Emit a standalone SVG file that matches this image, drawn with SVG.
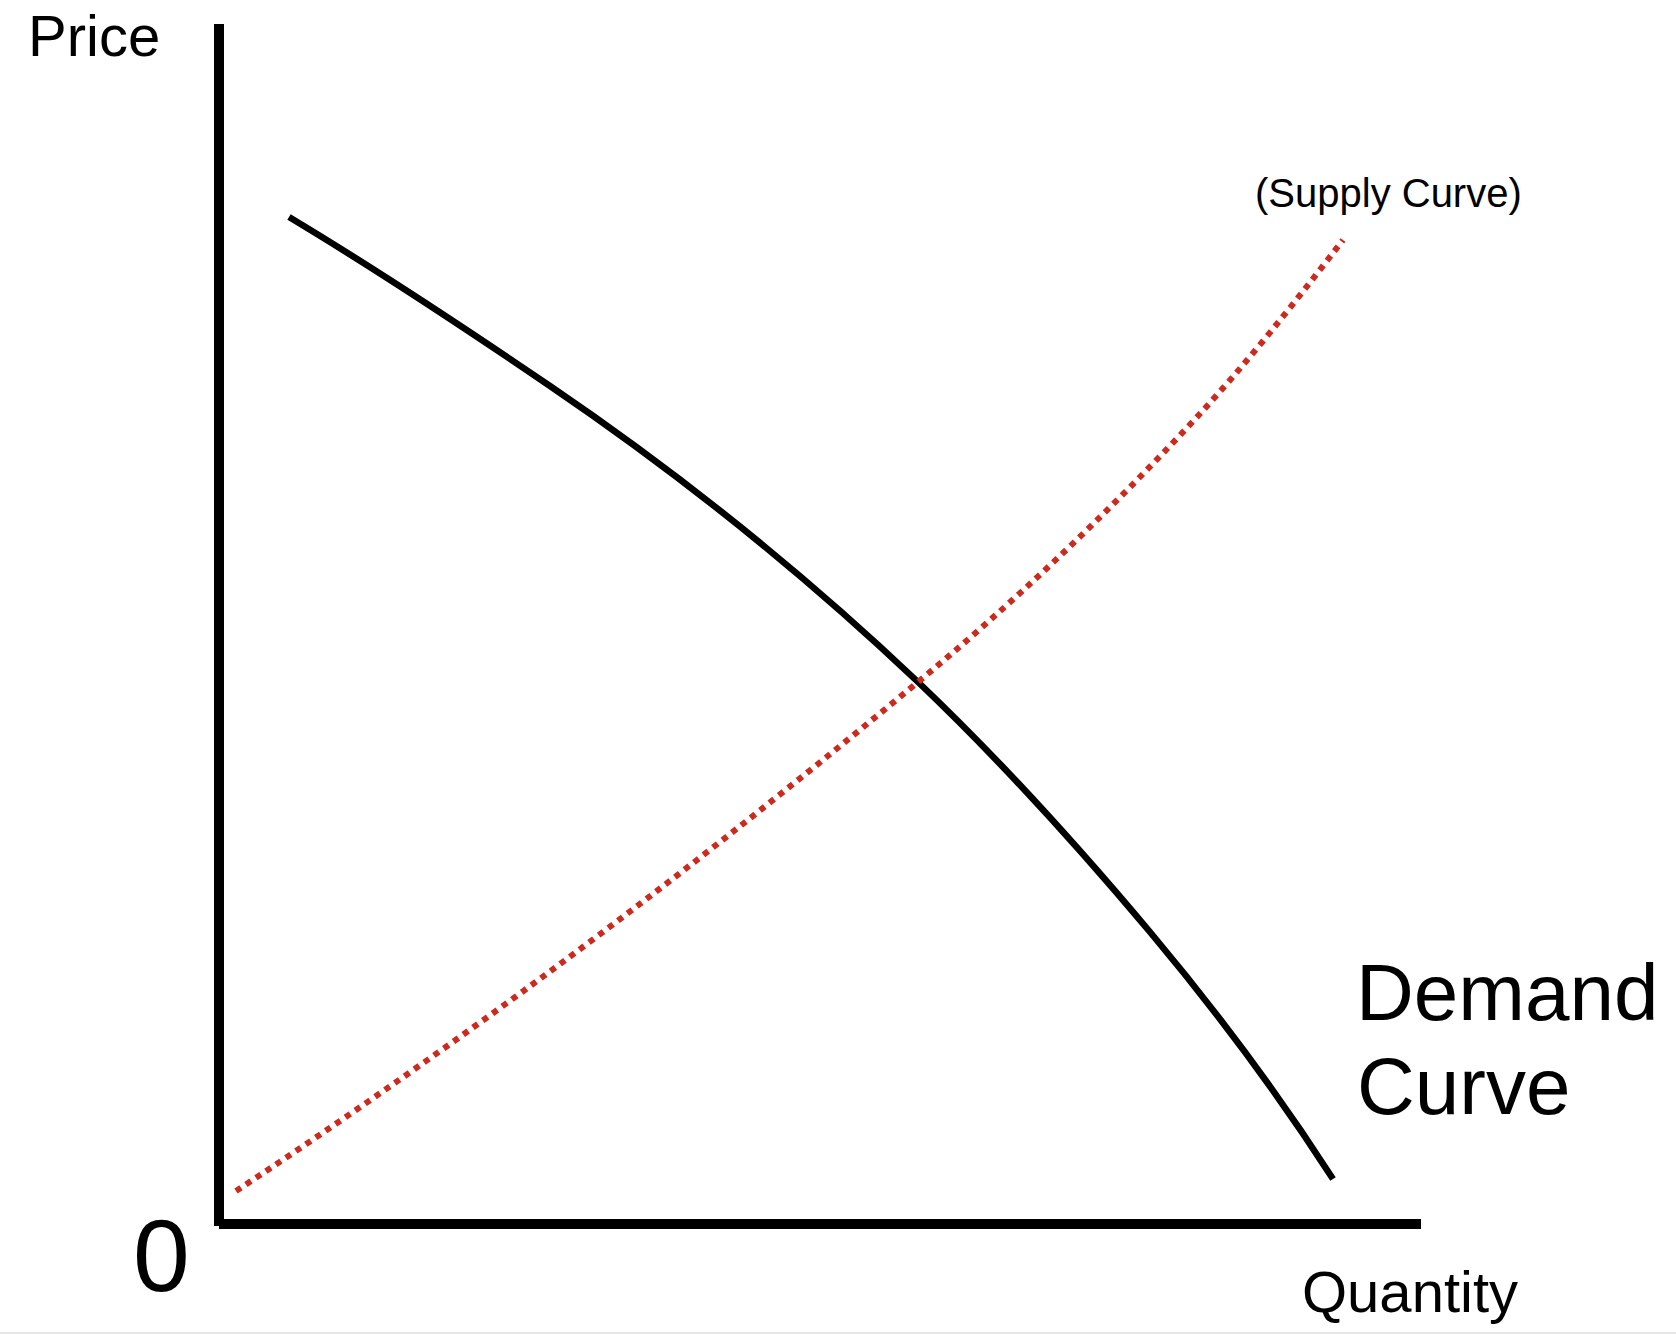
<svg xmlns="http://www.w3.org/2000/svg" width="1676" height="1334" viewBox="0 0 1676 1334">
<style>
text{font-family:"Liberation Sans",Arial,Helvetica,sans-serif;fill:#000}
.axis{stroke:#000;stroke-width:10;fill:none}
.demand{stroke:#000;stroke-width:6.5;fill:none}
.supply{stroke:#cc2a1e;stroke-width:6;fill:none;stroke-dasharray:6 6}
</style>
<rect x="0" y="0" width="1676" height="1334" fill="#fff"/>
<rect x="0" y="1332" width="1676" height="2" fill="#e6e6e6"/>
<g id="axes">
<line class="axis" x1="219" y1="24" x2="219" y2="1226"/>
<line class="axis" x1="219" y1="1224" x2="1421" y2="1224"/>
</g>
<g id="connectors">
<path id="demand-curve" class="demand" d="M289,217 C376,269.2 463,326.8 550,386 C672.7,469.4 795.3,565.5 918,682 C995.3,755.5 1072.7,840 1150,932 C1211,1004.6 1272,1084.4 1333,1179"/>
<path id="supply-curve" class="supply" d="M236,1191 C331.3,1128.1 426.7,1061.6 522,992 C654,895.6 786,791.6 918,682 C1011,604.8 1104,517.4 1197,417 C1245.7,364.4 1294.3,303.3 1343,240"/>
</g>
<g id="label-price"><text x="28" y="56" font-size="58">Price</text></g>
<g id="label-supply"><text x="1255" y="207" font-size="40">(Supply Curve)</text></g>
<g id="label-demand"><text x="1356" y="1020" font-size="80">Demand</text><text x="1357" y="1114" font-size="80">Curve</text></g>
<g id="label-zero"><text x="133" y="1291" font-size="102">0</text></g>
<g id="label-quantity"><text x="1302" y="1312" font-size="58">Quantity</text></g>
</svg>
